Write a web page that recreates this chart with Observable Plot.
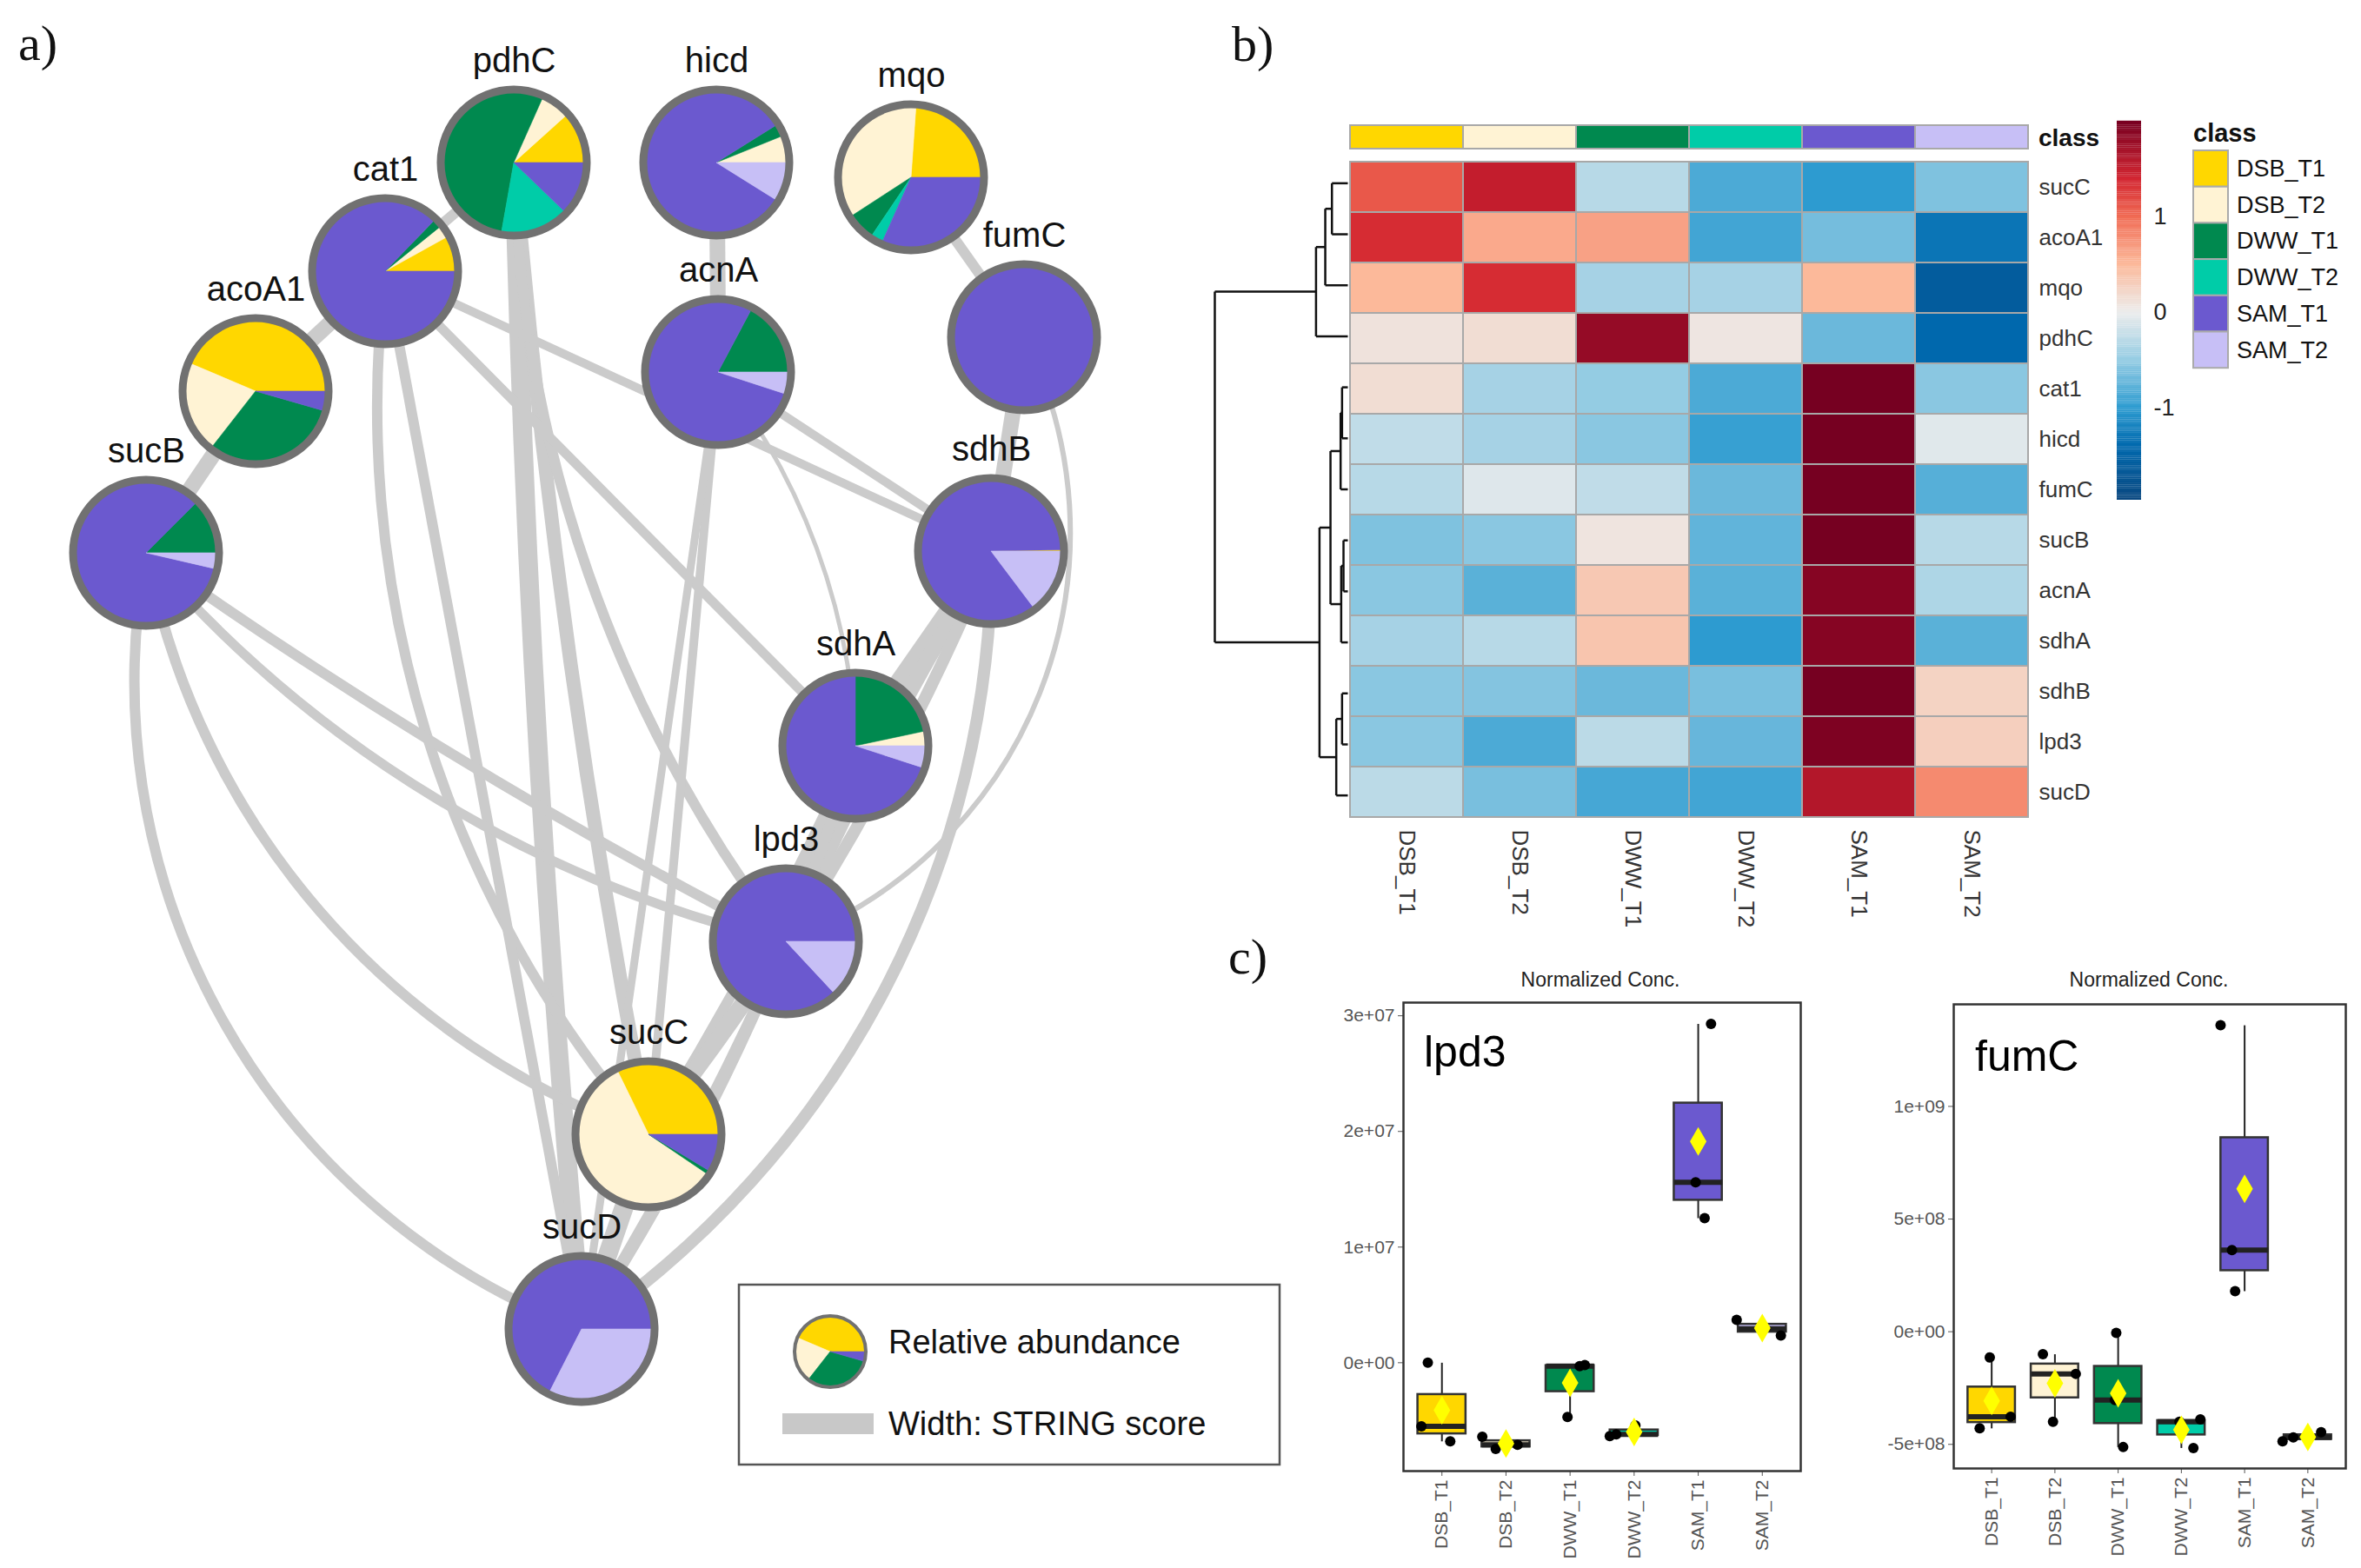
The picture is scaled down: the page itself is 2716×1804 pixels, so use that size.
<!DOCTYPE html>
<html><head><meta charset="utf-8">
<script src="https://cdn.jsdelivr.net/npm/d3@7"></script>
<script src="https://cdn.jsdelivr.net/npm/@observablehq/plot@0.6"></script>
<style>
body{margin:0;background:#fff;}
#root{position:relative;width:2716px;height:1804px;overflow:hidden;background:#fff;font-family:"Liberation Sans",Arial,sans-serif;}
</style></head><body><div id="root"></div><script>
// ---------- shared categories ----------
const classes = ["DSB_T1","DSB_T2","DWW_T1","DWW_T2","SAM_T1","SAM_T2"];
const classColors = ["#FFD700","#FFF3D4","#00894F","#00CCA8","#6B59CF","#C7BFF6"];

// ---------- panel a: network ----------
const geneNames = ["pdhC","hicd","mqo","cat1","fumC","acnA","acoA1","sucB","sdhB","sdhA","lpd3","sucC","sucD"];
const nodeX = [591,824,1048,443,1178,826,294,168,1140,984,904,746,669];
const nodeY = [187,187,204,312,388,428,450,636,634,858,1083,1305,1529];
// relative abundance shares (DSB_T1, DSB_T2, DWW_T1, DWW_T2, SAM_T1, SAM_T2)
const pieShares = [
  [42,24,194,56,44,0],   // pdhC
  [0,22,10,0,296,32],    // hicd
  [86,127,23,10,114,0],  // mqo
  [29,10,7,0,314,0],     // cat1
  [0,0,0,0,360,0],       // fumC
  [0,0,62,0,280,18],     // acnA
  [157,75,112,0,16,0],   // acoA1
  [0,0,45,0,302,13],     // sucB
  [1,0,0,0,306,53],      // sdhB
  [0,12,78,0,252,18],    // sdhA
  [0,0,0,0,313,47],      // lpd3
  [116,210,3,0,31,0],    // sucC
  [0,0,0,0,243,117]      // sucD
];
// edges: source, target, STRING-score width, bend
const edgeSource = ["acoA1","sucB","cat1","pdhC","pdhC","pdhC","cat1","cat1","cat1","cat1","hicd","acnA","acnA","acnA","acnA","mqo","fumC","fumC","sdhB","sdhB","sdhB","sdhB","sdhA","sdhA","sdhA","lpd3","lpd3","sucC","sucB","sucB","sucB","sucB"];
const edgeTarget = ["cat1","acoA1","pdhC","sucD","sucC","lpd3","sucC","sucD","sdhA","sdhB","acnA","sdhB","sucC","sucD","sdhA","fumC","sdhB","lpd3","sdhA","lpd3","sucC","sucD","lpd3","sucC","sucD","sucC","sucD","sucD","lpd3","lpd3","sucC","sucD"];
const edgeWidth  = [18,18,12,22,16,12,12,12,11,10,18,10,10,9,5,12,18,6,24,18,14,14,18,12,12,18,14,22,12,11,12,12];
const edgeBend   = [0,0,0,-2,-3,-18,-24,0,0,0,0,0,0,0,18,0,0,48,0,-4,8,28,0,4,8,0,4,0,-4,-18,-30,-40];

// ---------- panel b: heatmap ----------
const heatRows = ["sucC","acoA1","mqo","pdhC","cat1","hicd","fumC","sucB","acnA","sdhA","sdhB","lpd3","sucD"];
const heatValues = [
  [1.1,1.5,-0.3,-0.85,-1.0,-0.6],
  [1.35,0.6,0.65,-0.9,-0.65,-1.3],
  [0.5,1.35,-0.4,-0.4,0.5,-1.6],
  [0.1,0.15,1.8,0.07,-0.7,-1.4],
  [0.15,-0.4,-0.5,-0.85,2.0,-0.55],
  [-0.25,-0.4,-0.55,-0.95,2.0,-0.07],
  [-0.3,-0.08,-0.25,-0.7,2.0,-0.8],
  [-0.6,-0.55,0.08,-0.75,2.0,-0.3],
  [-0.55,-0.78,0.35,-0.78,1.9,-0.35],
  [-0.4,-0.3,0.38,-1.0,1.9,-0.78],
  [-0.55,-0.58,-0.7,-0.63,2.0,0.25],
  [-0.55,-0.85,-0.28,-0.72,1.95,0.28],
  [-0.28,-0.63,-0.88,-0.9,1.6,0.8]
];
const colorTicks = [-1,0,1];
// dendrogram merges: [childA, childB, height]
const dendroMerges = [
  ["sucC","acoA1",55],["m1","mqo",78],["m2","pdhC",110],
  ["cat1","hicd",20],["m4","fumC",25],["sucB","acnA",15],["m6","sdhA",23],
  ["m5","m7",60],["sdhB","lpd3",20],["m9","sucD",40],["m8","m10",98],["m3","m11",460]
];

// ---------- panel c: box plots ----------
const lpd3Values = [[0.0e7,-0.55e7,-0.68e7],[-0.64e7,-0.745e7,-0.71e7],[-0.02e7,-0.03e7,-0.47e7],[-0.634e7,-0.62e7,-0.543e7],[2.93e7,1.56e7,1.25e7],[0.37e7,0.236e7,0.294e7]];
const lpd3Jitter = [[-0.22,-0.32,0.13],[-0.37,-0.16,0.18],[0.23,0.15,-0.04],[-0.38,-0.28,0.02],[0.2,-0.04,0.1],[-0.4,0.29,0.0]];
const lpd3Ticks = [0,1e7,2e7,3e7];
const fumCValues = [[-1.14e8,-3.77e8,-4.29e8],[-1.0e8,-1.87e8,-4.0e8],[-0.05e8,-3.03e8,-5.12e8],[-3.89e8,-4.0e8,-5.16e8],[13.6e8,3.62e8,1.8e8],[-4.86e8,-4.69e8,-4.46e8]];
const fumCJitter = [[-0.03,0.3,-0.19],[-0.19,0.33,-0.03],[-0.03,-0.05,0.08],[0.3,-0.03,0.19],[-0.38,-0.2,-0.15],[-0.4,-0.23,0.21]];
const fumCTicks = [-5e8,0,5e8,1e9];

// ================= drawing =================
const root = document.getElementById("root");
function place(el, left, top) {
  el.style.position = "absolute"; el.style.left = left + "px"; el.style.top = top + "px";
  root.appendChild(el); return el;
}
const baseStyle = "background:transparent;max-width:none;overflow:visible;font-family:'Liberation Sans',Arial,sans-serif;";

function drawPie(g, cx, cy, r, shares, border) {
  const arcs = d3.pie().sort(null).startAngle(Math.PI / 2).endAngle(Math.PI / 2 - 2 * Math.PI)(shares);
  const gg = g.append("g").attr("transform", `translate(${cx},${cy})`);
  gg.selectAll("path").data(arcs.filter(a => a.value > 0)).join("path")
    .attr("d", d3.arc().innerRadius(0).outerRadius(r))
    .attr("fill", d => classColors[d.index]).attr("stroke", d => classColors[d.index]).attr("stroke-width", 0.6);
  gg.append("circle").attr("r", r).attr("fill", "none").attr("stroke", "#717171").attr("stroke-width", border);
}
const nodes = geneNames.map((g, i) => ({name: g, x: nodeX[i], y: nodeY[i], shares: pieShares[i]}));
const posX = Object.fromEntries(nodes.map(n => [n.name, n.x]));
const posY = Object.fromEntries(nodes.map(n => [n.name, n.y]));
const edges = edgeSource.map((s, i) => ({s, t: edgeTarget[i], w: edgeWidth[i], bend: edgeBend[i]}));
const R = 84;
function pieMark(list) {
  return (index, scales) => {
    const g = d3.create("svg:g");
    for (const n of list) {
      const cx = scales.x(n.x), cy = scales.y(n.y);
      const r = Math.abs(scales.x(n.x + R) - cx);
      drawPie(g, cx, cy, r, n.shares, 9);
    }
    return g.node();
  };
}
const network = Plot.plot({
  width: 1480, height: 1800, margin: 0,
  style: baseStyle,
  x: {domain: [0, 1480], range: [0, 1480], axis: null},
  y: {domain: [0, 1800], range: [0, 1800], axis: null},
  marks: [
    ...edges.map(e => Plot.arrow([e], {
      x1: d => posX[d.s], y1: d => posY[d.s], x2: d => posX[d.t], y2: d => posY[d.t],
      bend: e.bend, headLength: 0, stroke: "#cbcbcb", strokeWidth: e.w, strokeLinecap: "butt"
    })),
    pieMark(nodes),
    Plot.text(nodes, {x: "x", y: "y", text: "name", dy: -117, fontSize: 40, fill: "#111", fontFamily: "'Liberation Sans',Arial,sans-serif"})
  ]
});
place(network, 0, 0);

// ---------- heatmap ----------
const heatColor = {
  type: "linear",
  domain: [-1.96, -1.4, -1, -0.5, 0, 0.5, 1, 1.4, 1.99],
  range: ["#08467f", "#0068ad", "#2d9bd0", "#94cce3", "#ececec", "#fcb99a", "#f06a53", "#d2232f", "#780021"]
};
const heatData = heatRows.flatMap((g, i) => classes.map((c, j) => ({gene: g, cls: c, v: heatValues[i][j]})));
const cellW = 785, cellH = 763;
const heat = Plot.plot({
  width: cellW + 110, height: cellH + 140,
  marginLeft: 0, marginRight: 110, marginTop: 0, marginBottom: 140,
  style: baseStyle + "font-family:'Liberation Sans Narrow','Liberation Sans',Arial,sans-serif;font-size:26px;color:#333;",
  x: {domain: classes, padding: 0, tickRotate: 90, tickSize: 0, tickPadding: 10, label: null},
  y: {domain: heatRows, padding: 0, axis: "right", tickSize: 0, tickPadding: 10, label: null},
  color: heatColor,
  marks: [Plot.cell(heatData, {x: "cls", y: "gene", fill: "v", stroke: "#a8a8a8", strokeWidth: 2, inset: 0})]
});
place(heat, 1550, 181);

const classBar = Plot.plot({
  width: cellW, height: 27, margin: 0,
  style: baseStyle,
  x: {domain: classes, padding: 0, axis: null},
  y: {axis: null},
  color: {type: "identity"},
  marks: [Plot.cell(classes, {x: d => d, fill: (d, i) => classColors[i], stroke: "#a8a8a8", strokeWidth: 2, inset: 0})]
});
place(classBar, 1550, 144);

// dendrogram
const dNodes = {};
heatRows.forEach((g, i) => dNodes[g] = {y: i, h: 0});
const dSegs = [];
dendroMerges.forEach(([a, b, h], k) => {
  const A = dNodes[a], B = dNodes[b];
  dSegs.push({x1: h, y1: A.y, x2: h, y2: B.y});
  dSegs.push({x1: A.h, y1: A.y, x2: h, y2: A.y});
  dSegs.push({x1: B.h, y1: B.y, x2: h, y2: B.y});
  dNodes["m" + (k + 1)] = {y: (A.y + B.y) / 2, h};
});
const dendro = Plot.plot({
  width: 163, height: cellH, margin: 0,
  style: baseStyle,
  x: {domain: [490, 0], range: [0, 163], axis: null},
  y: {domain: [-0.5, heatRows.length - 0.5], range: [0, cellH], axis: null},
  marks: [Plot.link(dSegs, {x1: "x1", y1: "y1", x2: "x2", y2: "y2", stroke: "#111", strokeWidth: 2.5})]
});
place(dendro, 1387, 181);

// colour bar
const cbStops = d3.range(-1.96, 1.99, 0.02);
const colorbar = Plot.plot({
  width: 28 + 60, height: 435, marginLeft: 0, marginRight: 60, marginTop: 0, marginBottom: 0,
  style: baseStyle + "font-size:27px;color:#222;",
  x: {domain: [0, 1], axis: null},
  y: {domain: [-1.96, 1.99], axis: "right", ticks: colorTicks, tickSize: 0, tickPadding: 14, label: null, tickFormat: d => String(d)},
  color: heatColor,
  marks: [Plot.rect(cbStops, {x1: 0, x2: 1, y1: d => d, y2: d => d + 0.021, fill: d => d + 0.01})]
});
place(colorbar, 2435, 140);

// ---------- box plots ----------
function sci(d) {
  if (d === 0) return "0e+00";
  const [m, e] = d.toExponential(0).split("e");
  const n = +e;
  return m + "e" + (n < 0 ? "-" : "+") + String(Math.abs(n)).padStart(2, "0");
}
function boxPlot(values, jitter, yDomain, yTicks, frameW, frameH) {
  const groups = classes.map((c, i) => {
    const v = values[i].slice().sort(d3.ascending);
    return {i: i + 1, color: classColors[i], min: v[0], q1: d3.quantile(v, 0.25), med: d3.quantile(v, 0.5), q3: d3.quantile(v, 0.75), max: v[v.length - 1], mean: d3.mean(v)};
  });
  const pts = classes.flatMap((c, i) => values[i].map((v, j) => ({x: i + 1 + jitter[i][j], y: v})));
  return Plot.plot({
    width: 90 + frameW + 12, height: frameH + 110,
    marginLeft: 90, marginRight: 12, marginTop: 0, marginBottom: 110,
    style: baseStyle + "font-size:21px;color:#555;",
    x: {domain: [0.4, 6.6], ticks: [1, 2, 3, 4, 5, 6], tickFormat: d => classes[d - 1], tickRotate: -90, tickSize: 6, tickPadding: 4, label: null},
    y: {domain: yDomain, ticks: yTicks, tickFormat: sci, tickSize: 6, tickPadding: 4, label: null},
    color: {type: "identity"},
    marks: [
      Plot.link(groups, {x1: "i", x2: "i", y1: "q3", y2: "max", stroke: "#222", strokeWidth: 2}),
      Plot.link(groups, {x1: "i", x2: "i", y1: "min", y2: "q1", stroke: "#222", strokeWidth: 2}),
      Plot.rect(groups, {x1: d => d.i - 0.375, x2: d => d.i + 0.375, y1: "q1", y2: "q3", fill: "color", stroke: "#333", strokeWidth: 2.5}),
      Plot.link(groups, {x1: d => d.i - 0.375, x2: d => d.i + 0.375, y1: "med", y2: "med", stroke: "#222", strokeWidth: 6}),
      Plot.dot(pts, {x: "x", y: "y", r: 6, fill: "#000"}),
      Plot.dot(groups, {x: "i", y: "mean", symbol: "diamond", r: 10, fill: "#ffff00"}),
      Plot.frame({stroke: "#333", strokeWidth: 2.5})
    ]
  });
}
place(boxPlot(lpd3Values, lpd3Jitter, [-0.937e7, 3.114e7], lpd3Ticks, 457, 539), 1524, 1153);
place(boxPlot(fumCValues, fumCJitter, [-6.07e8, 14.53e8], fumCTicks, 451, 534), 2157, 1155);

// ---------- overlay: panel letters, titles, legends ----------
const ov = d3.create("svg").attr("width", 2716).attr("height", 1804)
  .style("font-family", "'Liberation Sans',Arial,sans-serif").style("pointer-events", "none");
const serif = "'Liberation Serif','DejaVu Serif',serif";
[["a)", 21, 69], ["b)", 1417, 70], ["c)", 1413, 1120]].forEach(([t, x, y]) =>
  ov.append("text").attr("x", x).attr("y", y).attr("font-family", serif).attr("font-size", 58).attr("fill", "#111").text(t));
ov.append("text").attr("x", 2345).attr("y", 168).attr("font-size", 28).attr("font-weight", "bold").attr("fill", "#111").text("class");
[1841, 2472].forEach(x => ov.append("text").attr("x", x).attr("y", 1135).attr("text-anchor", "middle").attr("font-size", 23).attr("fill", "#222").text("Normalized Conc."));
ov.append("text").attr("x", 1638).attr("y", 1227).attr("font-size", 50).attr("fill", "#000").text("lpd3");
ov.append("text").attr("x", 2272).attr("y", 1232).attr("font-size", 50).attr("fill", "#000").text("fumC");
// class legend
ov.append("text").attr("x", 2523).attr("y", 163).attr("font-size", 29).attr("font-weight", "bold").attr("fill", "#111").text("class");
classes.forEach((c, i) => {
  ov.append("rect").attr("x", 2523).attr("y", 173 + i * 41.7).attr("width", 40).attr("height", 41.7)
    .attr("fill", classColors[i]).attr("stroke", "#aaa").attr("stroke-width", 2);
  ov.append("text").attr("x", 2573).attr("y", 173 + i * 41.7 + 30).attr("font-size", 27).attr("fill", "#111").text(c);
});
// network legend
ov.append("rect").attr("x", 850).attr("y", 1478).attr("width", 622).attr("height", 207)
  .attr("fill", "#fff").attr("stroke", "#555").attr("stroke-width", 2.5);
drawPie(ov, 955, 1555, 41, pieShares[6], 4);
ov.append("text").attr("x", 1022).attr("y", 1557).attr("font-size", 38).attr("fill", "#111").text("Relative abundance");
ov.append("rect").attr("x", 900).attr("y", 1626).attr("width", 105).attr("height", 24).attr("fill", "#c8c8c8");
ov.append("text").attr("x", 1022).attr("y", 1651).attr("font-size", 38).attr("fill", "#111").text("Width: STRING score");
place(ov.node(), 0, 0);
</script></body></html>
